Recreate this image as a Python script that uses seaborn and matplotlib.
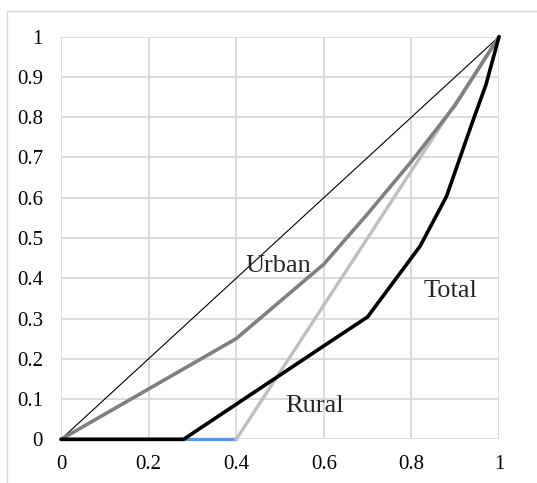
import matplotlib
matplotlib.use("Agg")
import matplotlib.pyplot as plt
import seaborn as sns
from matplotlib.patches import Rectangle

# equality line
eq_x = [0, 1]
eq_y = [0, 1]

# urban curve
urban_x = [0, 0.4, 0.6, 0.7, 0.8, 0.9, 1]
urban_y = [0, 0.25, 0.435, 0.56, 0.69, 0.83, 1]

# rural curve (zero up to 0.4)
rural_x = [0.4, 1]
rural_y = [0, 1]
rural_zero_x = [0, 0.4]
rural_zero_y = [0, 0]

# total curve
total_x = [0, 0.28, 0.4, 0.6, 0.7, 0.82, 0.88, 0.94, 0.97, 1]
total_y = [0, 0, 0.087, 0.232, 0.304, 0.48, 0.603, 0.79, 0.88, 1]

xticks = [0, 0.2, 0.4, 0.6, 0.8, 1]
xticklabels = ["0", "0.2", "0.4", "0.6", "0.8", "1"]
yticks = [0, 0.1, 0.2, 0.3, 0.4, 0.5, 0.6, 0.7, 0.8, 0.9, 1]
yticklabels = ["0", "0.1", "0.2", "0.3", "0.4", "0.5", "0.6", "0.7", "0.8", "0.9", "1"]

sns.set_style("white")
plt.rcParams["font.family"] = ["Liberation Serif", "DejaVu Serif"]

fig = plt.figure(figsize=(5.37, 4.83), dpi=100)
# outer chart border (cropped on right and bottom)
fig.patches.append(Rectangle((7 / 537, -0.1), 1.2, 1 - 11 / 483 + 0.1,
                             transform=fig.transFigure, fill=False,
                             edgecolor="#d9d9d9", linewidth=1.0))
ax = fig.add_axes([61 / 537, 1 - 439.3 / 483, 438 / 537, 402.6 / 483])

sns.lineplot(x=rural_zero_x, y=rural_zero_y, ax=ax, color="#5b9bd5", linewidth=2.4, zorder=3, clip_on=False)
sns.lineplot(x=rural_x, y=rural_y, ax=ax, color="#bfbfbf", linewidth=2.4, zorder=3, clip_on=False)
sns.lineplot(x=eq_x, y=eq_y, ax=ax, color="black", linewidth=0.8, zorder=4, clip_on=False)
sns.lineplot(x=urban_x, y=urban_y, ax=ax, color="#808080", linewidth=2.6, zorder=4, clip_on=False)
sns.lineplot(x=total_x, y=total_y, ax=ax, color="black", linewidth=2.6, zorder=5, clip_on=False)

ax.set_xlim(0, 1)
ax.set_ylim(0, 1)
ax.set_xticks(xticks)
ax.set_xticklabels(xticklabels)
ax.set_yticks(yticks)
ax.set_yticklabels(yticklabels)
ax.tick_params(axis="both", length=0, labelsize=15, colors="black")
ax.tick_params(axis="x", pad=11)
ax.tick_params(axis="y", pad=13)
ax.grid(True, color="#d9d9d9", linewidth=1.3)
ax.set_axisbelow(True)
for s in ax.spines.values():
    s.set_visible(False)

ax.text(0.497, 0.4156, "Urban", fontsize=19, ha="center", va="baseline", zorder=6)
ax.text(0.889, 0.354, "Total", fontsize=19, ha="center", va="baseline", zorder=6)
ax.text(0.579, 0.0686, "Rural", fontsize=19, ha="center", va="baseline", zorder=6)

fig.savefig("out.png", dpi=100)
